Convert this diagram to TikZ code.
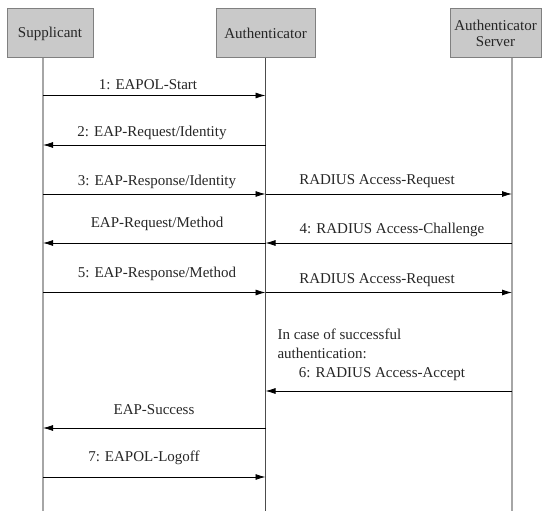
\documentclass[tikz,border=0pt]{standalone}
\usepackage{fontspec}
\setmainfont{Liberation Serif}
\usetikzlibrary{positioning, arrows.meta, calc}

\begin{document}
\begin{tikzpicture}[x=1pt, y=-1pt,
    every node/.style={font=\fontsize{15}{18.5}\selectfont, text=black!85},
    entity/.style={draw=gray, line width=1pt, fill=gray!42, minimum height=49pt, inner sep=0pt, align=center},
    msg/.style={-{Latex[length=10pt,width=6pt]}, line width=0.8pt},
    life/.style={line width=1.2pt, draw=gray!70}]
    \useasboundingbox (0,0) rectangle (544,513);

    % Entities
    \node[entity, minimum width=86pt] (sup) at (50,33.5) {Supplicant};
    \node[entity, minimum width=99pt] (auth) at (265.5,33.5) {Authenticator};
    \node[entity, minimum width=91pt] (srv) at (495.5,33.5) {Authenticator\\[-2pt]Server};

    % Lifelines
    \coordinate (supEnd) at (43,511);
    \coordinate (authEnd) at (265.5,511);
    \coordinate (srvEnd) at (512,511);
    \draw[life] (supEnd |- sup.south) -- (supEnd);
    \draw[life, draw=gray!140] (auth.south) -- (authEnd);
    \draw[life] (srvEnd |- srv.south) -- (srvEnd);

    % Message rows
    \coordinate (r1) at (0,95.5);
    \coordinate (r2) at (0,145);
    \coordinate (r3) at (0,194);
    \coordinate (r4) at (0,243);
    \coordinate (r5) at (0,292.5);
    \coordinate (r6) at (0,391);
    \coordinate (r7) at (0,428);
    \coordinate (r8) at (0,477);

    % Supplicant <-> Authenticator
    \draw[msg] (supEnd |- r1) -- (authEnd |- r1); \node (l1) at (148,85) {1: EAPOL-Start};
    \draw[msg] (authEnd |- r2) -- (supEnd |- r2); \node (l2) at (152,133) {2: EAP-Request/Identity};
    \draw[msg] (supEnd |- r3) -- (authEnd |- r3); \node (l3) at (157,181.5) {3: EAP-Response/Identity};
    \draw[msg] (authEnd |- r4) -- (supEnd |- r4); \node (l4) at (157,224) {EAP-Request/Method};
    \draw[msg] (supEnd |- r5) -- (authEnd |- r5); \node (l5) at (157,274) {5: EAP-Response/Method};
    \draw[msg] (authEnd |- r7) -- (supEnd |- r7); \node (l7) at (154,410) {EAP-Success};
    \draw[msg] (supEnd |- r8) -- (authEnd |- r8); \node (l8) at (144,458) {7: EAPOL-Logoff};

    % Authenticator <-> Server
    \draw[msg] (authEnd |- r3) -- (srvEnd |- r3); \node (m3) at (377,181.5) {RADIUS Access-Request};
    \draw[msg] (srvEnd |- r4) -- (authEnd |- r4); \node (m4) at (392,230) {4: RADIUS Access-Challenge};
    \draw[msg] (authEnd |- r5) -- (srvEnd |- r5); \node (m5) at (377,280) {RADIUS Access-Request};
    \node[align=left, anchor=west] (note) at (274,344) {In case of successful\\authentication:};
    \draw[msg] (srvEnd |- r6) -- (authEnd |- r6); \node (m6) at (382,374) {6: RADIUS Access-Accept};
\end{tikzpicture}
\end{document}
